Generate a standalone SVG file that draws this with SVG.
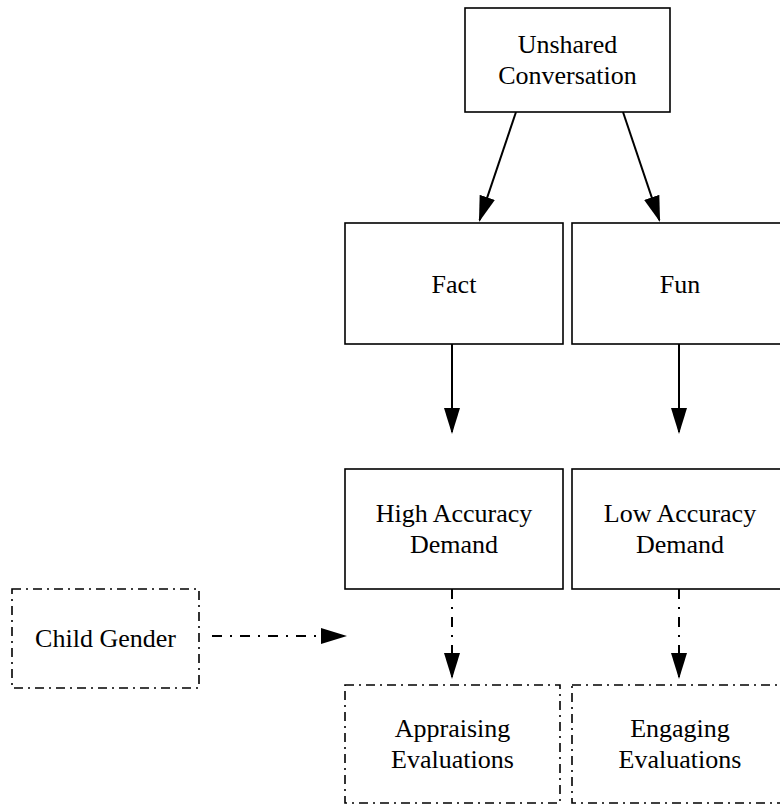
<svg xmlns="http://www.w3.org/2000/svg" width="780" height="807" viewBox="0 0 780 807">
<style>
.box{fill:#fff;stroke:#000;stroke-width:1.6}
.dbox{fill:#fff;stroke:#000;stroke-width:1.6;stroke-dasharray:9,5,2,5}
.t{font-family:"Liberation Serif","Times New Roman",serif;font-size:26px;fill:#000;text-anchor:middle}
.e{stroke:#000;stroke-width:2;fill:none}
.de{stroke:#000;stroke-width:2;fill:none;stroke-dasharray:10,8,2,8}
</style>
<defs>
<marker id="ah" markerUnits="userSpaceOnUse" markerWidth="26" markerHeight="16" refX="24" refY="8" orient="auto">
<path d="M0,0 L26,8 L0,16 z" fill="#000"/>
</marker>
</defs>
<rect width="780" height="807" fill="#fff"/>
<g id="edges">
<line class="e" x1="516" y1="112" x2="479.6" y2="220.1" marker-end="url(#ah)"/>
<line class="e" x1="623" y1="112" x2="659.4" y2="220.1" marker-end="url(#ah)"/>
<line class="e" x1="452" y1="344" x2="452" y2="432" marker-end="url(#ah)"/>
<line class="e" x1="679" y1="344" x2="679" y2="432" marker-end="url(#ah)"/>
<line class="de" x1="452" y1="589" x2="452" y2="677" marker-end="url(#ah)"/>
<line class="de" x1="679" y1="589" x2="679" y2="677" marker-end="url(#ah)"/>
<line class="de" x1="212" y1="636" x2="345" y2="636" marker-end="url(#ah)"/>
</g>
<g id="unshared">
<rect class="box" x="465" y="8" width="205" height="104"/>
<text class="t" x="567.5" y="53">Unshared</text>
<text class="t" x="567.5" y="84">Conversation</text>
</g>
<g id="fact">
<rect class="box" x="345" y="223" width="218" height="121"/>
<text class="t" x="454" y="293">Fact</text>
</g>
<g id="fun">
<rect class="box" x="572" y="223" width="216" height="121"/>
<text class="t" x="680" y="293">Fun</text>
</g>
<g id="high">
<rect class="box" x="345" y="469" width="218" height="120"/>
<text class="t" x="454" y="522">High Accuracy</text>
<text class="t" x="454" y="553">Demand</text>
</g>
<g id="low">
<rect class="box" x="572" y="469" width="216" height="120"/>
<text class="t" x="680" y="522">Low Accuracy</text>
<text class="t" x="680" y="553">Demand</text>
</g>
<g id="gender">
<rect class="dbox" x="12" y="589" width="187" height="99"/>
<text class="t" x="105.5" y="647">Child Gender</text>
</g>
<g id="appraising">
<rect class="dbox" x="345" y="685" width="215" height="118"/>
<text class="t" x="452.5" y="737">Appraising</text>
<text class="t" x="452.5" y="768">Evaluations</text>
</g>
<g id="engaging">
<rect class="dbox" x="572" y="685" width="216" height="118"/>
<text class="t" x="680" y="737">Engaging</text>
<text class="t" x="680" y="768">Evaluations</text>
</g>
</svg>
